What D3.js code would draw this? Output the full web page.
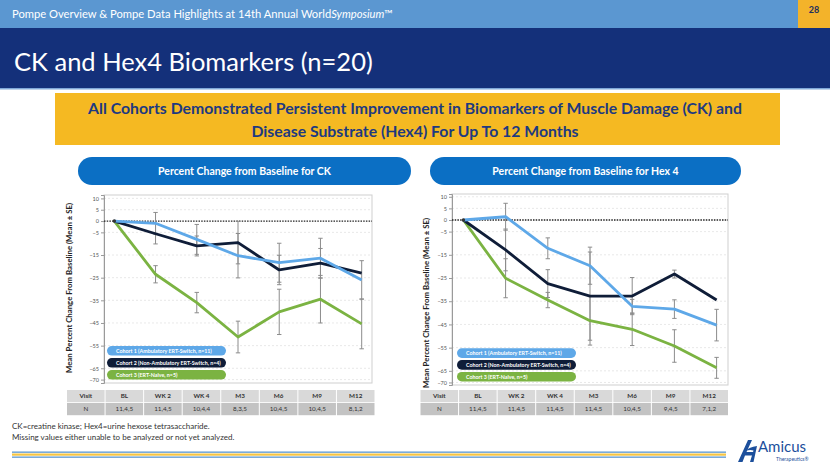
<!DOCTYPE html>
<html>
<head>
<meta charset="utf-8">
<script src="https://cdn.jsdelivr.net/npm/d3@7"></script>
<style>
  html, body { margin: 0; padding: 0; background: #fff; }
  svg { display: block; font-family: Lato, "Open Sans", sans-serif; }
</style>
</head>
<body>
<svg id="slide" width="830" height="467"></svg>
<script>
// ---------- DATA ----------
const visits = ["BL", "WK 2", "WK 4", "M3", "M6", "M9", "M12"];
const yTicks = [10, 5, 0, -5, -15, -25, -35, -45, -55, -65, -70];
const cohortLabels = [
  "Cohort 1 (Ambulatory ERT-Switch, n=11)",
  "Cohort 2 (Non-Ambulatory ERT-Switch, n=4)",
  "Cohort 3 (ERT-Naive, n=5)"
];
// CK: percent change from baseline (mean) and SE
const ckCohort1 = [0, -1.0, -8.1, -15.3, -18.4, -16.4, -26.0];
const ckCohort2 = [0, -5.6, -11.0, -9.5, -21.6, -18.6, -23.0];
const ckCohort3 = [0, -23.5, -36.0, -51.2, -40.1, -34.5, -45.4];
const ckSE1 = [0, 4.8, 6.6, 9.8, 8.6, 8.8, 8.5];
const ckSE2 = [0, 4.5, 4.4, 9.4, 6.5, 6.5, 0];
const ckSE3 = [0, 3.8, 4.5, 7.0, 10.0, 10.5, 11.0];
const ckN = ["11,4,5", "11,4,5", "10,4,4", "8,3,5", "10,4,5", "10,4,5", "8,1,2"];
// Hex4: percent change from baseline (mean) and SE
const hexCohort1 = [0, 1.4, -12.2, -19.7, -37.2, -38.4, -45.3];
const hexCohort2 = [0, -12.9, -27.4, -32.8, -32.8, -23.3, -34.5];
const hexCohort3 = [0, -25.1, -34.5, -43.4, -47.1, -54.3, -63.7];
const hexSE1 = [0, 5.8, 4.5, 8.0, 3.0, 4.0, 6.8];
const hexSE2 = [0, 9.0, 6.0, 19.0, 8.0, 1.7, 0];
const hexSE3 = [0, 8.4, 3.3, 10.5, 7.0, 7.0, 4.5];
const hexN = ["11,4,5", "11,4,5", "11,4,5", "11,4,5", "10,4,5", "9,4,5", "7,1,2"];

const cohortColors = ["#5ea8e8", "#0f1d38", "#7bb342"];

// ---------- SLIDE FRAME ----------
const svg = d3.select("#slide");

svg.append("rect").attr("x", 0).attr("y", 0).attr("width", 830).attr("height", 28).attr("fill", "#5b97d1");
svg.append("rect").attr("x", 798).attr("y", 0).attr("width", 32).attr("height", 28).attr("fill", "#f3b32a");
svg.append("text").attr("x", 814).attr("y", 13).attr("text-anchor", "middle")
  .attr("font-size", 9).attr("font-weight", 700).attr("fill", "#1d2f5e").text("28");
const hdr = svg.append("text").attr("x", 12).attr("y", 18).attr("font-size", 11.2).attr("fill", "#fff");
hdr.append("tspan").text("Pompe Overview & Pompe Data Highlights at 14th Annual World");
hdr.append("tspan").attr("font-style", "italic").text("Symposium");
hdr.append("tspan").text("™");

svg.append("rect").attr("x", 0).attr("y", 28).attr("width", 830).attr("height", 60).attr("fill", "#14307a");
svg.append("rect").attr("x", 0).attr("y", 88).attr("width", 830).attr("height", 1.5).attr("fill", "#7fa7d8");
svg.append("text").attr("x", 14).attr("y", 71).attr("font-size", 25.5).attr("fill", "#fff")
  .text("CK and Hex4 Biomarkers (n=20)");

svg.append("rect").attr("x", 55).attr("y", 93).attr("width", 725).attr("height", 52).attr("fill", "#f5b922");
svg.append("text").attr("x", 415).attr("y", 114).attr("text-anchor", "middle").attr("font-size", 15.8)
  .attr("font-weight", 700).attr("fill", "#1e3a80")
  .text("All Cohorts Demonstrated Persistent Improvement in Biomarkers of Muscle Damage (CK) and");
svg.append("text").attr("x", 415).attr("y", 137).attr("text-anchor", "middle").attr("font-size", 15.8)
  .attr("font-weight", 700).attr("fill", "#1e3a80")
  .text("Disease Substrate (Hex4) For Up To 12 Months");

function pill(x, w, label) {
  svg.append("rect").attr("x", x).attr("y", 157).attr("width", w).attr("height", 28).attr("rx", 14)
    .attr("fill", "#0b6fc4");
  svg.append("text").attr("x", x + w / 2).attr("y", 175).attr("text-anchor", "middle")
    .attr("font-size", 10.5).attr("font-weight", 700).attr("fill", "#fff").text(label);
}
pill(78, 333, "Percent Change from Baseline for CK");
pill(430, 311, "Percent Change from Baseline for Hex 4");

// ---------- CHART ----------
function drawChart(cfg) {
  const g = svg.append("g");
  const x = d3.scalePoint().domain(visits).range([cfg.x0, cfg.x1]).padding(cfg.pad);
  const y = d3.scaleLinear().domain(cfg.domain).range([cfg.yTop, cfg.yBottom]);

  // frame
  g.append("rect").attr("x", cfg.x0).attr("y", cfg.yTop).attr("width", cfg.x1 - cfg.x0)
    .attr("height", cfg.yBottom - cfg.yTop).attr("fill", "none").attr("stroke", "#cfcfcf").attr("stroke-width", 1);

  // grid
  g.selectAll(".grid").data(yTicks.filter(d => d !== 0)).join("line")
    .attr("x1", cfg.x0).attr("x2", cfg.x1).attr("y1", d => y(d)).attr("y2", d => y(d))
    .attr("stroke", "#e2e2e2").attr("stroke-width", 0.8).attr("stroke-dasharray", "2,2");

  // axis
  const ax = g.append("g").attr("transform", `translate(${cfg.x0},0)`)
    .call(d3.axisLeft(y).tickValues(yTicks).tickSize(3).tickPadding(2));
  ax.select(".domain").attr("stroke", "#9a9a9a");
  ax.selectAll(".tick line").attr("stroke", "#9a9a9a");
  ax.selectAll(".tick text").attr("font-size", 5.5).attr("fill", "#555").attr("font-family", "Lato, sans-serif");

  // zero line
  g.append("line").attr("x1", cfg.x0).attr("x2", cfg.x1).attr("y1", y(0)).attr("y2", y(0))
    .attr("stroke", "#222").attr("stroke-width", 1.3).attr("stroke-dasharray", "1.5,1.2");

  // error bars
  cfg.series.forEach((s) => {
    const eg = g.append("g");
    s.values.forEach((v, i) => {
      const se = s.se[i];
      if (!se) return;
      const cx = x(visits[i]);
      eg.append("line").attr("x1", cx).attr("x2", cx).attr("y1", y(v + se)).attr("y2", y(v - se))
        .attr("stroke", "#8c8c8c").attr("stroke-width", 1);
      [v + se, v - se].forEach(e => {
        eg.append("line").attr("x1", cx - 2.2).attr("x2", cx + 2.2).attr("y1", y(e)).attr("y2", y(e))
          .attr("stroke", "#8c8c8c").attr("stroke-width", 1);
      });
    });
  });

  // lines (draw cohort 3, 2, 1 so cohort 1 ends on top)
  const line = d3.line().x((d, i) => x(visits[i])).y(d => y(d));
  [2, 1, 0].forEach(k => {
    g.append("path").datum(cfg.series[k].values).attr("d", line).attr("fill", "none")
      .attr("stroke", cohortColors[k]).attr("stroke-width", 2.8).attr("stroke-linejoin", "round");
  });
  g.append("circle").attr("cx", x(visits[0])).attr("cy", y(0)).attr("r", 1.8).attr("fill", "#333");

  // legend pills
  cohortLabels.forEach((lab, k) => {
    const ly = cfg.legY + k * cfg.legStep;
    g.append("rect").attr("x", cfg.legX).attr("y", ly).attr("width", 119).attr("height", 9.6)
      .attr("rx", 4.8).attr("fill", cohortColors[k]);
    g.append("text").attr("x", cfg.legX + 9).attr("y", ly + 6.7).attr("font-size", 5.3)
      .attr("font-weight", 700)
      .attr("fill", "#fff").attr("font-family", "Lato, sans-serif").text(lab);
  });

  // y title
  g.append("text").attr("transform", `translate(${cfg.titleX},${cfg.titleY}) rotate(-90)`)
    .attr("text-anchor", "middle").attr("font-size", 7.8).attr("font-weight", 700).attr("fill", "#222")
    .text("Mean Percent Change From Baseline (Mean ± SE)");

  // table
  const cols = ["Visit"].concat(visits);
  const tx = d3.scaleBand().domain(cols).range([cfg.tx0, cfg.tx1]);
  const rows = [{ fill: "#d9d9d9", cells: cols, bold: true, y: 390 },
                { fill: "#c3c3c3", cells: ["N"].concat(cfg.n), bold: false, y: 403 }];
  rows.forEach(r => {
    r.cells.forEach((c, i) => {
      const cx = tx(cols[i]);
      g.append("rect").attr("x", cx + 0.5).attr("y", r.y).attr("width", tx.bandwidth() - 1).attr("height", 12.2)
        .attr("fill", r.fill);
      g.append("text").attr("x", cx + tx.bandwidth() / 2).attr("y", r.y + 8.4).attr("text-anchor", "middle")
        .attr("font-size", 6.3).attr("font-weight", r.bold ? 700 : 400).attr("fill", "#333").text(c);
    });
  });
}

drawChart({
  x0: 104, x1: 372, pad: 0.25, yTop: 195, yBottom: 383, domain: [11.5, -71.5],
  series: [
    { values: ckCohort1, se: ckSE1 },
    { values: ckCohort2, se: ckSE2 },
    { values: ckCohort3, se: ckSE3 }
  ],
  legX: 107, legY: 346, legStep: 12,
  titleX: 72, titleY: 288,
  tx0: 66.5, tx1: 375, n: ckN
});

drawChart({
  x0: 452, x1: 728, pad: 0.27, yTop: 194, yBottom: 385, domain: [11.2, -71.1],
  series: [
    { values: hexCohort1, se: hexSE1 },
    { values: hexCohort2, se: hexSE2 },
    { values: hexCohort3, se: hexSE3 }
  ],
  legX: 457, legY: 348.3, legStep: 11.8,
  titleX: 429, titleY: 303,
  tx0: 420, tx1: 728.5, n: hexN
});

// ---------- FOOTER ----------
svg.append("text").attr("x", 12).attr("y", 429).attr("font-size", 8).attr("fill", "#333")
  .text("CK=creatine kinase; Hex4=urine hexose tetrasaccharide.");
svg.append("text").attr("x", 12).attr("y", 440).attr("font-size", 8).attr("fill", "#333")
  .text("Missing values either unable to be analyzed or not yet analyzed.");
svg.append("rect").attr("x", 12).attr("y", 451.5).attr("width", 714).attr("height", 1.3).attr("fill", "#5b97d1");
svg.append("rect").attr("x", 12).attr("y", 453.5).attr("width", 714).attr("height", 2.2).attr("fill", "#f6c543");
svg.append("rect").attr("x", 12).attr("y", 456.5).attr("width", 714).attr("height", 1.3).attr("fill", "#5b97d1");

// logo
const logo = svg.append("g").attr("transform", "translate(738,438)");
logo.append("path").attr("d", "M0,24 L10,2 L14,2 L8.5,14 L17,14 L16,17.5 L7,17.5 L4.5,24 Z").attr("fill", "#1c4f9c");
logo.append("path").attr("d", "M12,24 L15.5,24 L19,8 Q11,9 8,12.5 Q13,11.5 15.5,12.5 Z").attr("fill", "#1c4f9c");
logo.append("text").attr("x", 20).attr("y", 14).attr("font-size", 15).attr("font-weight", 400)
  .attr("fill", "#1c4f9c").text("Amicus");
logo.append("text").attr("x", 38).attr("y", 22.5).attr("font-size", 5).attr("fill", "#1c4f9c").text("Therapeutics®");
</script>
</body>
</html>
